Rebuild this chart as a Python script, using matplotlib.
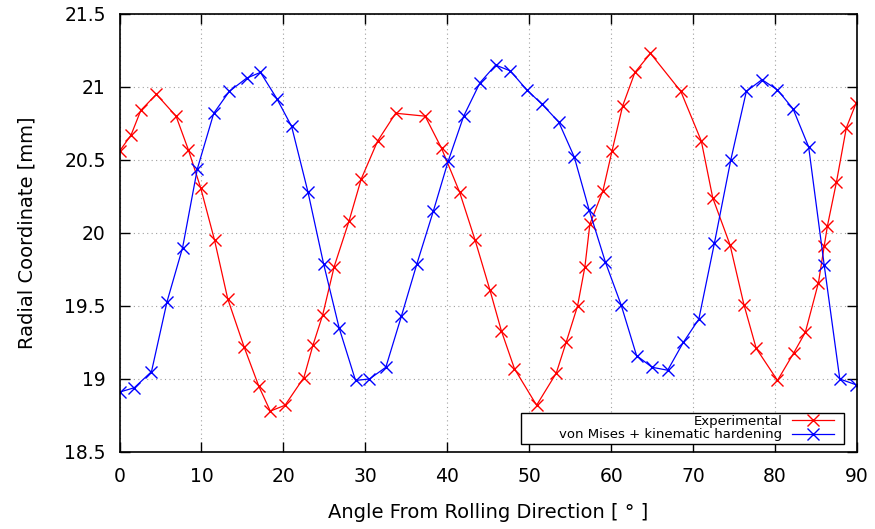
import matplotlib
matplotlib.use("Agg")
import matplotlib.pyplot as plt
from matplotlib.patches import Rectangle

# ------------------------------------------------------------------
# data
# ------------------------------------------------------------------
exp_angle = [0.0, 1.4, 2.6, 4.5, 6.9, 8.4, 9.9, 11.6, 13.2, 15.2, 17.0, 18.4,
             20.2, 22.5, 23.6, 24.8, 26.2, 28.0, 29.5, 31.5, 33.7, 37.3, 39.3,
             41.5, 43.4, 45.2, 46.6, 48.2, 50.9, 53.3, 54.5, 55.9, 56.8, 57.4,
             59.0, 60.1, 61.4, 62.9, 64.8, 68.5, 71.0, 72.4, 74.5, 76.2, 77.7,
             80.3, 82.3, 83.7, 85.3, 86.0, 86.4, 87.5, 88.7, 89.9]
exp_radius = [20.56, 20.67, 20.84, 20.95, 20.80, 20.57, 20.31, 19.95, 19.55,
              19.22, 18.95, 18.78, 18.82, 19.01, 19.23, 19.44, 19.77, 20.08,
              20.37, 20.63, 20.82, 20.80, 20.58, 20.28, 19.95, 19.61, 19.33,
              19.07, 18.82, 19.04, 19.25, 19.50, 19.77, 20.06, 20.29, 20.56,
              20.87, 21.10, 21.23, 20.97, 20.63, 20.24, 19.92, 19.51, 19.21,
              18.99, 19.18, 19.32, 19.66, 19.91, 20.05, 20.35, 20.72, 20.89]

vm_angle = [0.0, 1.8, 3.9, 5.8, 7.7, 9.5, 11.5, 13.4, 15.5, 17.2, 19.2, 21.0,
            23.0, 24.9, 26.8, 28.8, 30.5, 32.5, 34.4, 36.3, 38.3, 40.1, 42.0,
            44.0, 45.9, 47.7, 49.7, 51.6, 53.6, 55.5, 57.3, 59.3, 61.2, 63.1,
            65.0, 66.9, 68.8, 70.7, 72.6, 74.6, 76.5, 78.4, 80.3, 82.2, 84.1,
            86.0, 87.9, 89.9]
vm_radius = [18.91, 18.94, 19.05, 19.53, 19.90, 20.44, 20.82, 20.97, 21.06,
             21.10, 20.92, 20.73, 20.28, 19.79, 19.35, 18.99, 19.00, 19.08,
             19.43, 19.79, 20.15, 20.49, 20.80, 21.03, 21.15, 21.11, 20.98,
             20.88, 20.76, 20.52, 20.16, 19.80, 19.51, 19.16, 19.08, 19.06,
             19.25, 19.41, 19.93, 20.50, 20.97, 21.05, 20.98, 20.85, 20.59,
             19.78, 19.00, 18.96]

x_ticks = [0, 10, 20, 30, 40, 50, 60, 70, 80, 90]
y_ticks = [18.5, 19, 19.5, 20, 20.5, 21, 21.5]
y_tick_labels = ["18.5", "19", "19.5", "20", "20.5", "21", "21.5"]

# ------------------------------------------------------------------
# plot
# ------------------------------------------------------------------
plt.rcParams["font.family"] = ["DejaVu Sans"]

fig = plt.figure(figsize=(8.75, 5.29), dpi=100)
ax = fig.add_axes([0.1366, 0.1456, 0.8428, 0.828])

ax.plot(exp_angle, exp_radius, color="#ff0000", lw=0.9, marker="x",
        ms=8, mew=1.0, label="Experimental")
ax.plot(vm_angle, vm_radius, color="#0000ff", lw=0.9, marker="x",
        ms=8, mew=1.0, label="von Mises + kinematic hardening")

ax.set_xlim(0, 90)
ax.set_ylim(18.5, 21.5)
ax.set_xticks(x_ticks)
ax.set_yticks(y_ticks)
ax.set_yticklabels(y_tick_labels)
ax.tick_params(direction="in", length=7, width=1, top=True, right=True,
               labelsize=13.5)
ax.tick_params(axis="y", pad=10)
ax.tick_params(axis="x", pad=11)
ax.grid(True, color="#a0a0a0", linestyle=(0, (1, 3)), linewidth=0.8)
for s in ax.spines.values():
    s.set_linewidth(1.2)

ax.set_xlabel("Angle From Rolling Direction [ ° ]", fontsize=14, labelpad=12)
ax.set_ylabel("Radial Coordinate [mm]", fontsize=14, labelpad=20)

# key box, gnuplot style (wide on the left)
ax.add_patch(Rectangle((0.545, 0.018), 0.438, 0.071, transform=ax.transAxes,
                       facecolor="white", edgecolor="black", lw=1.0, zorder=4))
leg = ax.legend(loc="lower right", bbox_to_anchor=(0.973, 0.018),
                markerfirst=False, frameon=False, fontsize=9.5,
                borderaxespad=0, borderpad=0.2, labelspacing=0.05,
                handlelength=3.2, handletextpad=0.75)
leg.set_zorder(5)

plt.savefig("out.png", dpi=100)
